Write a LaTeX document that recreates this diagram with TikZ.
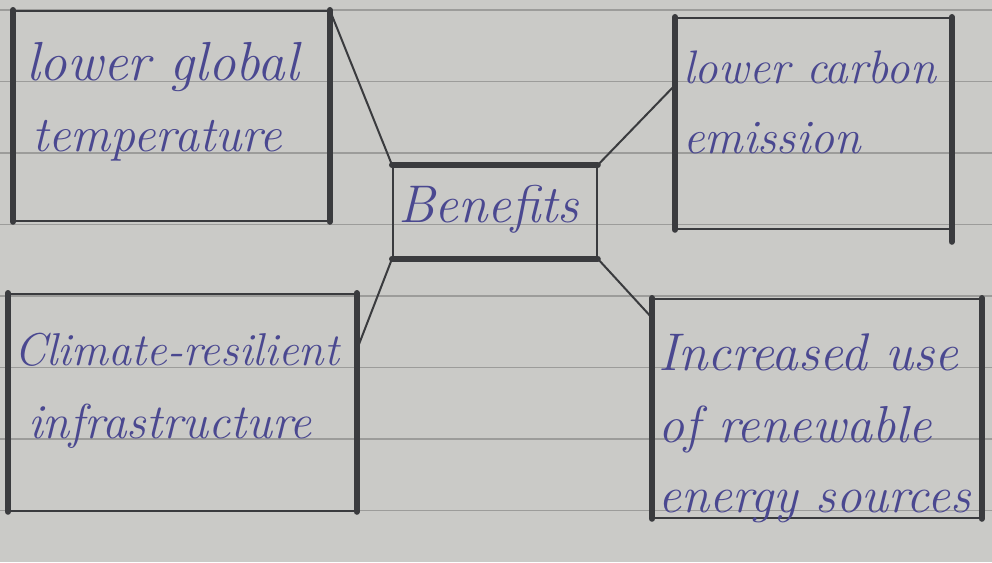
\documentclass[tikz,border=0pt]{standalone}
\usepackage{fontspec}
\usetikzlibrary{calc}
\definecolor{paper}{HTML}{CACAC7}
\definecolor{rule}{HTML}{9C9C9A}
\definecolor{pen}{HTML}{3A3B3E}
\definecolor{ink}{HTML}{4A4890}
\tikzset{
  box/.style={draw=pen, line width=1.8pt, inner sep=0pt, anchor=north west},
  side/.style={draw=pen, line width=6pt, line cap=round},
  link/.style={draw=pen, line width=2pt},
  hand/.style={text=ink, inner sep=0pt, anchor=base west, font=\itshape\fontsize{#1}{70}\selectfont},
  hand/.default=50,
}
\begin{document}
\begin{tikzpicture}[x=1pt,y=-1pt]
\useasboundingbox (0,0) rectangle (992,562);
\fill[paper] (0,0) rectangle (992,562);
\foreach \y in {10,81.5,153,224.5,296,367.5,439,510.5}
  \draw[rule, line width=1.3pt] (0,\y) -- (992,\y);
% boxes
\node[box, minimum width=315pt, minimum height=210pt] (tl) at (13,10) {};
\node[box, minimum width=275pt, minimum height=211pt] (tr) at (675,17) {};
\node[box, minimum width=204pt, minimum height=92pt] (c) at (392,165) {};
\node[box, minimum width=347pt, minimum height=217pt] (bl) at (8,293) {};
\node[box, minimum width=328pt, minimum height=219pt] (br) at (652,298) {};
% thick sides
\draw[side] (tl.north west) -- (tl.south west);
\draw[side] (tl.north east) -- (tl.south east);
\draw[side] (tr.north west) -- (tr.south west);
\draw[side] (tr.north east) -- ([yshift=-12pt]tr.south east);
\draw[side] (c.north west) -- (c.north east);
\draw[side] (c.south west) -- (c.south east);
\draw[side] (bl.north west) -- (bl.south west);
\draw[side] (bl.north east) -- (bl.south east);
\draw[side] (br.north west) -- (br.south west);
\draw[side] (br.north east) -- (br.south east);
% connectors
\coordinate (trp) at ($(tr.north west)!0.32!(tr.south west)$);
\coordinate (blp) at ($(bl.north east)!0.26!(bl.south east)$);
\coordinate (brp) at ($(br.north west)!0.09!(br.south west)$);
\draw[link] (tl.north east) -- (c.north west);
\draw[link] (trp) -- (c.north east);
\draw[link] (blp) -- (c.south west);
\draw[link] (brp) -- (c.south east);
% texts
\node[hand=55] (t1) at (26,80) {lower global};
\node[hand=50] (t2) at (32,151) {temperature};
\node[hand=47] (t3) at (683,83) {lower carbon};
\node[hand=48] (t4) at (683,153) {emission};
\node[hand=53] (t5) at (398,222) {Benefits};
\node[hand=46] (t6) at (14,365) {Climate-resilient};
\node[hand=49] (t7) at (28,438) {infrastructure};
\node[hand=53] (t8) at (658,370) {Increased use};
\node[hand=52] (t9) at (658,442) {of renewable};
\node[hand=51] (t10) at (658,512) {energy sources};
\end{tikzpicture}
\end{document}
